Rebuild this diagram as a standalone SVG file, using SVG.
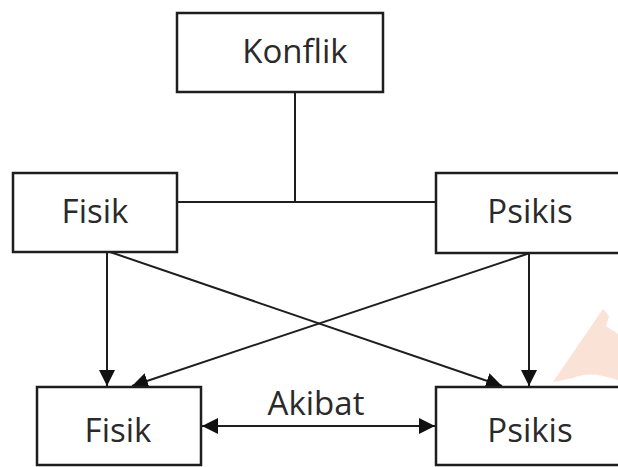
<svg xmlns="http://www.w3.org/2000/svg" width="618" height="467" viewBox="0 0 618 467">
<style>
.box{fill:#fff;stroke:#1e1e1e;stroke-width:2.5}
.lbl{font-family:"Open Sans","Liberation Sans",sans-serif;font-size:33px;fill:#2a2a2a;text-anchor:middle}
.con{stroke:#1e1e1e;stroke-width:2;fill:none}
</style>
<defs>
<marker id="ah" viewBox="0 0 10 10" refX="10" refY="5" markerWidth="16" markerHeight="16" markerUnits="userSpaceOnUse" orient="auto-start-reverse">
<path d="M0,0 L10,5 L0,10 Z" fill="#111"/>
</marker>
</defs>
<rect width="618" height="467" fill="#fff"/>
<path d="M553,382 L603,309 L609,316 L606,326 L618,334 L618,380 Q590,370 573,378 Z" fill="#fbe2d6"/>
<g id="connectors">
<line class="con" x1="295" y1="92" x2="295" y2="202"/>
<line class="con" x1="177" y1="202" x2="436" y2="202"/>
<line class="con" x1="107" y1="252" x2="107" y2="386" marker-end="url(#ah)"/>
<line class="con" x1="110" y1="252" x2="502" y2="386" marker-end="url(#ah)"/>
<line class="con" x1="530" y1="253" x2="132" y2="386" marker-end="url(#ah)"/>
<line class="con" x1="529" y1="253" x2="529" y2="386" marker-end="url(#ah)"/>
<line class="con" x1="202" y1="426" x2="435" y2="426" marker-start="url(#ah)" marker-end="url(#ah)"/>
</g>
<g id="konflik"><rect class="box" x="177" y="13" width="206" height="79"/><text class="lbl" x="295" y="63">Konflik</text></g>
<g id="fisik-top"><rect class="box" x="13" y="173" width="164" height="79"/><text class="lbl" x="95" y="223">Fisik</text></g>
<g id="psikis-top"><rect class="box" x="436" y="173" width="190" height="80"/><text class="lbl" x="530" y="223">Psikis</text></g>
<g id="fisik-bottom"><rect class="box" x="37" y="387" width="164" height="78"/><text class="lbl" x="118" y="442">Fisik</text></g>
<g id="psikis-bottom"><rect class="box" x="436" y="387" width="190" height="78"/><text class="lbl" x="530" y="442">Psikis</text></g>
<g id="akibat-label"><text class="lbl" x="316" y="415">Akibat</text></g>
</svg>
